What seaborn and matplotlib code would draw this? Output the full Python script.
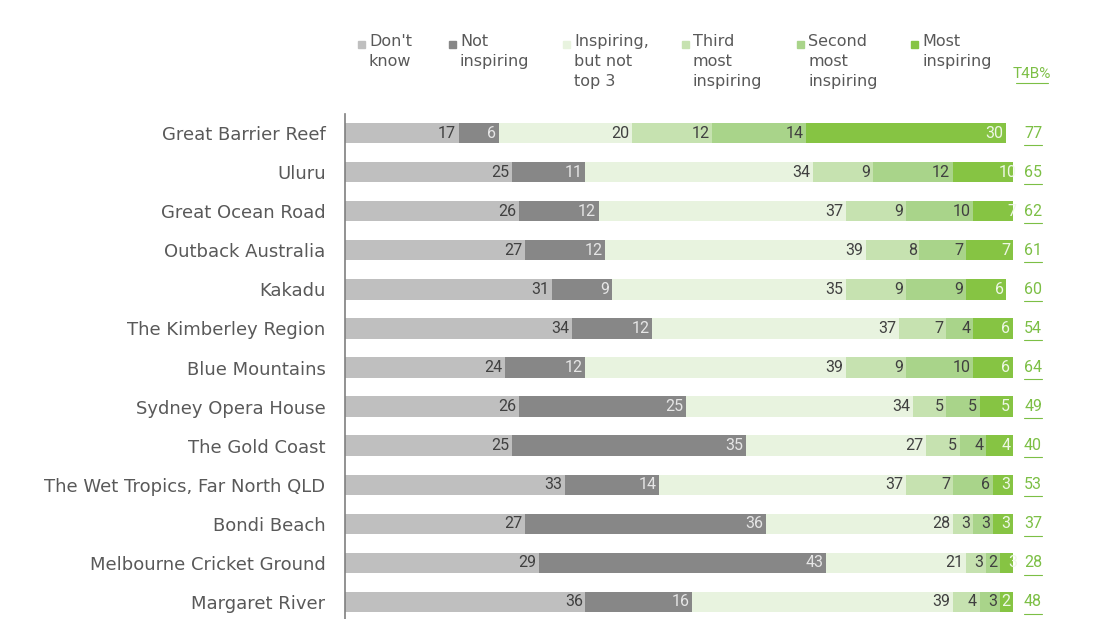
import pandas as pd
import matplotlib.pyplot as plt
import matplotlib.patches as mpatches
import seaborn as sns
import numpy as np

# Data
places = ["Great Barrier Reef", "Uluru", "Great Ocean Road", "Outback Australia",
          "Kakadu", "The Kimberley Region", "Blue Mountains", "Sydney Opera House",
          "The Gold Coast", "The Wet Tropics, Far North QLD", "Bondi Beach",
          "Melbourne Cricket Ground", "Margaret River"]
dont_know = [17, 25, 26, 27, 31, 34, 24, 26, 25, 33, 27, 29, 36]
not_inspiring = [6, 11, 12, 12, 9, 12, 12, 25, 35, 14, 36, 43, 16]
inspiring_not_top3 = [20, 34, 37, 39, 35, 37, 39, 34, 27, 37, 28, 21, 39]
third_most = [12, 9, 9, 8, 9, 7, 9, 5, 5, 7, 3, 3, 4]
second_most = [14, 12, 10, 7, 9, 4, 10, 5, 4, 6, 3, 2, 3]
most_inspiring = [30, 10, 7, 7, 6, 6, 6, 5, 4, 3, 3, 3, 2]
t4b = [77, 65, 62, 61, 60, 54, 64, 49, 40, 53, 37, 28, 48]

series_names = ["Don't\nknow", "Not\ninspiring", "Inspiring,\nbut not\ntop 3",
                "Third\nmost\ninspiring", "Second\nmost\ninspiring", "Most\ninspiring"]
series = [dont_know, not_inspiring, inspiring_not_top3, third_most, second_most, most_inspiring]
colors = ["#bfbfbf", "#878787", "#e8f3df", "#c6e2b0", "#a9d48a", "#86c443"]
label_colors = ["#404040", "#e6e6e6", "#404040", "#404040", "#404040", "#eef7e6"]

TEXT = "#595959"
GREEN = "#7cbf45"
num_font = ["Roboto", "DejaVu Sans"]

sns.set_style("white")
fig = plt.figure(figsize=(11, 6.19), dpi=100)
ax = fig.add_axes([0.3136, -0.004, 0.6073, 0.8206])

df = pd.DataFrame({"place": places})
cum = np.zeros(len(places))
cums = []
for s in series:
    cum = cum + np.array(s)
    cums.append(cum.copy())

# draw cumulative layers from the full bar down so each segment shows
for i in range(len(series) - 1, -1, -1):
    df["end"] = cums[i]
    sns.barplot(data=df, x="end", y="place", orient="h", color=colors[i],
                width=0.52, saturation=1, ax=ax, linewidth=0)

for i, s in enumerate(series):
    for j, v in enumerate(s):
        ax.text(cums[i][j] - 0.4, j, str(v), ha="right", va="center",
                fontsize=11.5, color=label_colors[i], family=num_font)

ax.set_xlim(0, 100)
ax.set_ylim(12.5, -0.5)
ax.set_xlabel("")
ax.set_ylabel("")
ax.set_xticks([])
ax.tick_params(axis="y", length=0, pad=14, labelsize=13, labelcolor=TEXT)
for sp in ["top", "right", "bottom"]:
    ax.spines[sp].set_visible(False)
ax.spines["left"].set_color("#7f7f7f")
ax.spines["left"].set_linewidth(1.2)

# T4B% column
for j, v in enumerate(t4b):
    ax.text(103.0, j, str(v), ha="center", va="center", fontsize=11.5,
            color=GREEN, family=num_font)
    ax.plot([101.6, 104.4], [j + 0.3, j + 0.3], color=GREEN, lw=0.8, clip_on=False)
fig.text(1032 / 1100, 1 - 74 / 619, "T4B%", ha="center", va="center",
         fontsize=11, color=GREEN, family=num_font)
fig.add_artist(plt.Line2D([1016 / 1100, 1048 / 1100], [1 - 83 / 619, 1 - 83 / 619],
                          color=GREEN, lw=0.8))

# legend drawn at the top
leg_x = [358, 449, 563, 682, 797, 911]
for x, name, c in zip(leg_x, series_names, colors):
    fig.add_artist(mpatches.Rectangle((x / 1100, 1 - 48 / 619), 7 / 1100, 7 / 619,
                                      color=c, transform=fig.transFigure))
    fig.text((x + 11) / 1100, 1 - 34 / 619, name, ha="left", va="top",
             fontsize=11.5, color=TEXT, linespacing=1.4)

plt.savefig("out.png", dpi=100)
